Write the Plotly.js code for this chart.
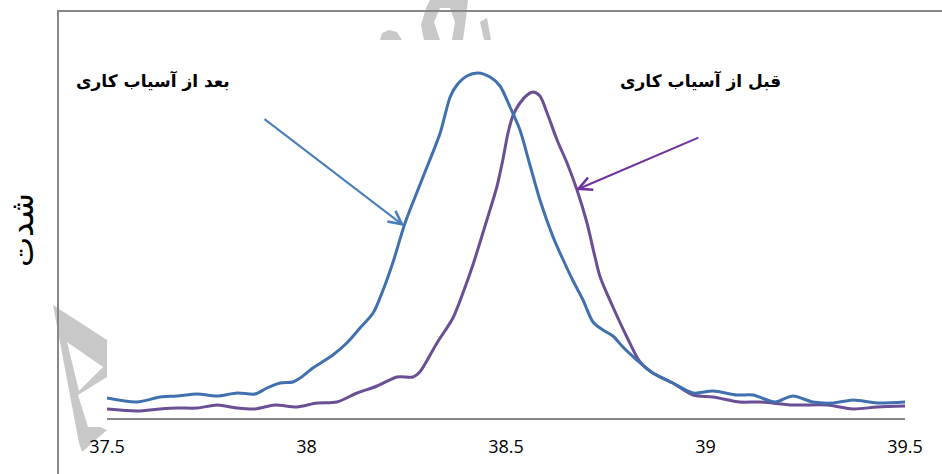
<!DOCTYPE html>
<html>
<head>
<meta charset="utf-8">
<script src="https://cdn.plot.ly/plotly-3.0.1.min.js"></script>
<style>
  html, body { margin: 0; padding: 0; background: #ffffff; }
  #chart { width: 942px; height: 474px; }
</style>
</head>
<body>
<div id="chart"></div>
<script>
// 2-theta positions (degrees) and diffraction intensity, before and after milling
const thetaAfter = [37.500, 37.575, 37.633, 37.675, 37.726, 37.776, 37.826, 37.871, 37.901, 37.934,
  37.966, 37.984, 38.016, 38.066, 38.101, 38.134, 38.167, 38.192, 38.217, 38.247,
  38.292, 38.335, 38.360, 38.377, 38.402, 38.430, 38.460, 38.485, 38.510, 38.535,
  38.560, 38.585, 38.618, 38.640, 38.667, 38.693, 38.718, 38.743, 38.768, 38.793,
  38.828, 38.868, 38.918, 38.969, 39.019, 39.079, 39.119, 39.174, 39.219, 39.269,
  39.320, 39.370, 39.430, 39.500];
const intensityAfter = [200, 160, 210, 220, 240, 220, 250, 240, 300, 350,
  360, 400, 500, 630, 750, 900, 1050, 1280, 1560, 1950,
  2410, 2850, 3210, 3330, 3420, 3450, 3410, 3320, 3110, 2880,
  2530, 2180, 1810, 1610, 1380, 1180, 960, 880, 820, 710,
  580, 450, 350, 250, 270, 230, 230, 160, 220, 160,
  150, 180, 150, 160];

const thetaBefore = [37.500, 37.575, 37.633, 37.675, 37.726, 37.776, 37.826, 37.871, 37.921, 37.976,
  38.026, 38.076, 38.127, 38.177, 38.227, 38.267, 38.284, 38.327, 38.367, 38.392,
  38.417, 38.452, 38.477, 38.492, 38.505, 38.518, 38.535, 38.553, 38.568, 38.585,
  38.603, 38.628, 38.653, 38.678, 38.703, 38.723, 38.736, 38.768, 38.803, 38.836,
  38.868, 38.918, 38.969, 39.019, 39.086, 39.137, 39.219, 39.305, 39.370, 39.430,
  39.500];
const intensityBefore = [90, 70, 90, 100, 100, 130, 100, 90, 130, 110,
  150, 160, 250, 320, 410, 410, 460, 750, 1000, 1250,
  1530, 1980, 2310, 2580, 2850, 3030, 3150, 3230, 3260, 3220,
  3050, 2780, 2550, 2280, 1950, 1610, 1410, 1110, 810, 560,
  450, 350, 230, 210, 160, 160, 130, 130, 90, 110,
  120];

const tickValues = [37.5, 38, 38.5, 39, 39.5];
const tickLabels = ['37.5', '38', '38.5', '39', '39.5'];

const labelAfter = 'بعد از آسیاب کاری';
const labelBefore = 'قبل از آسیاب کاری';
const yTitle = 'شدت';

const blue = '#4070AD';
const purple = '#6A4F95';

const traces = [
  {
    x: thetaBefore, y: intensityBefore, type: 'scatter', mode: 'lines',
    line: { color: purple, width: 3, shape: 'spline', smoothing: 0.8 },
    hoverinfo: 'skip'
  },
  {
    x: thetaAfter, y: intensityAfter, type: 'scatter', mode: 'lines',
    line: { color: blue, width: 3, shape: 'spline', smoothing: 0.8 },
    hoverinfo: 'skip'
  }
];

// light grey logo pieces sitting behind the frame (paper coordinates)
const W = 798, H = 378, L = 107, B = 418;
function px(x, y) { return ((x - L) / W).toFixed(4) + ',' + ((B - y) / H).toFixed(4); }
function pathFrom(points, close) {
  return 'M' + points.map(p => px(p[0], p[1])).join('L') + (close ? 'Z' : '');
}
const grey = '#C8C8C8';
const logoLeft = pathFrom([[53,305],[107,340],[107,377],[78,395],[88,427],[100,427],[107,430],[82,452],[79,443]], true)
  + ' ' + pathFrom([[67,342],[103,367],[79,391]], true);
const logoTop1 = pathFrom([[380,40],[382,33],[389,30],[397,32],[402,40]], true);
const logoTop2 = pathFrom([[424,40],[421,25],[426,8],[430,0],[468,0],[466,18],[463,40],[452,40],[455,22],[450,8],[440,8],[434,22],[440,40]], true);
const logoTop3 = pathFrom([[480,22],[487,18],[491,40],[484,40]], true);

const layout = {
  width: 942, height: 474,
  margin: { l: L, r: 37, t: 40, b: 56 },
  paper_bgcolor: '#ffffff',
  plot_bgcolor: 'rgba(0,0,0,0)',
  showlegend: false,
  xaxis: {
    range: [37.5, 39.5],
    tickvals: tickValues, ticktext: tickLabels,
    showgrid: false, zeroline: false,
    showline: true, linecolor: '#868686', linewidth: 1.5,
    ticks: '', ticklabelstandoff: 12,
    tickfont: { family: 'Open Sans, sans-serif', size: 18, color: '#000000' }
  },
  yaxis: {
    range: [0, 3780],
    showgrid: false, zeroline: false, showline: false,
    showticklabels: false, ticks: ''
  },
  shapes: [
    { type: 'path', xref: 'paper', yref: 'paper', path: logoLeft, fillrule: 'evenodd',
      fillcolor: grey, line: { width: 0 }, layer: 'below' },
    { type: 'path', xref: 'paper', yref: 'paper', path: logoTop1,
      fillcolor: grey, line: { width: 0 }, layer: 'below' },
    { type: 'path', xref: 'paper', yref: 'paper', path: logoTop2,
      fillcolor: grey, line: { width: 0 }, layer: 'below' },
    { type: 'path', xref: 'paper', yref: 'paper', path: logoTop3,
      fillcolor: grey, line: { width: 0 }, layer: 'below' },
    // chart frame
    { type: 'rect', xref: 'paper', yref: 'paper',
      x0: (58 - L) / W, x1: 1.3, y0: -0.4, y1: (B - 11) / H,
      line: { color: '#878787', width: 2 }, fillcolor: 'rgba(0,0,0,0)', layer: 'above' }
  ],
  annotations: [
    { xref: 'x', yref: 'y', x: 38.245, y: 1920, axref: 'x', ayref: 'y', ax: 37.891, ay: 3000,
      text: '', showarrow: true, arrowhead: 5, arrowsize: 1.3, arrowwidth: 2, arrowcolor: '#4A7EBB' },
    { xref: 'x', yref: 'y', x: 38.675, y: 2280, axref: 'x', ayref: 'y', ax: 38.986, ay: 2810,
      text: '', showarrow: true, arrowhead: 5, arrowsize: 1.3, arrowwidth: 2, arrowcolor: '#7030A0' },
    { xref: 'paper', yref: 'paper', x: (153 - L) / W, y: (B - 80) / H, showarrow: false,
      xanchor: 'center', yanchor: 'middle',
      text: '<b>' + labelAfter + '</b>',
      font: { family: 'DejaVu Sans, sans-serif', size: 17, color: '#000000' } },
    { xref: 'paper', yref: 'paper', x: (700 - L) / W, y: (B - 80) / H, showarrow: false,
      xanchor: 'center', yanchor: 'middle',
      text: '<b>' + labelBefore + '</b>',
      font: { family: 'DejaVu Sans, sans-serif', size: 17, color: '#000000' } },
    { xref: 'paper', yref: 'paper', x: (22 - L) / W, y: (B - 230) / H, showarrow: false,
      xanchor: 'center', yanchor: 'middle',
      textangle: -90, text: yTitle,
      font: { family: 'DejaVu Sans, sans-serif', size: 32, color: '#000000' } }
  ]
};

Plotly.newPlot('chart', traces, layout, { displayModeBar: false, staticPlot: true });
</script>
</body>
</html>
